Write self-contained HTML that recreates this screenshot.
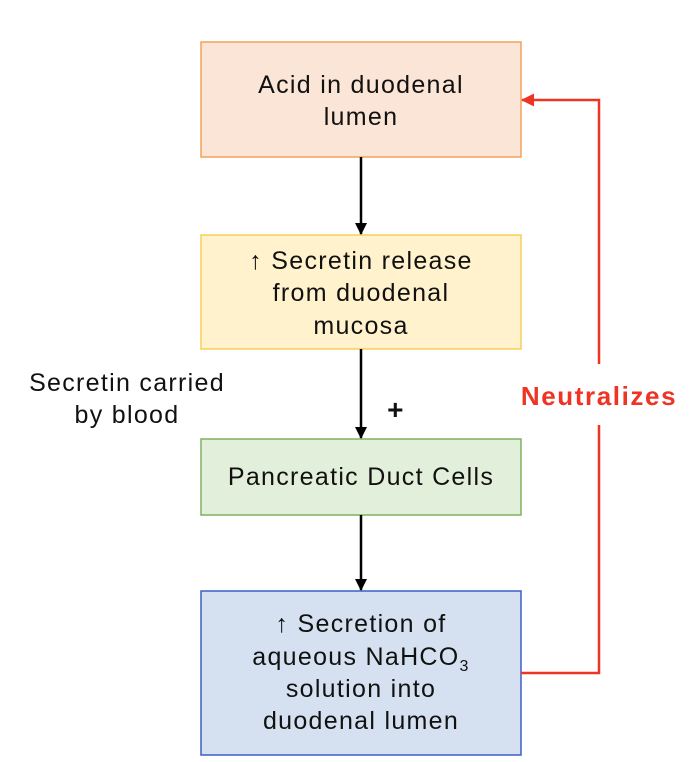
<!DOCTYPE html>
<html><head><style>body{margin:0;background:#fff}svg{display:block}</style></head><body>
<svg width="692" height="762" viewBox="0 0 692 762" xmlns="http://www.w3.org/2000/svg" font-family="Liberation Sans, sans-serif" font-size="25" letter-spacing="1.3" fill="#111">
<defs>
<marker id="ab" markerWidth="12" markerHeight="12" refX="11" refY="6" orient="auto" markerUnits="userSpaceOnUse"><path d="M0,0 L12,6 L0,12 z" fill="#000"/></marker>
<marker id="ar" markerWidth="13" markerHeight="13" refX="12" refY="6.5" orient="auto" markerUnits="userSpaceOnUse"><path d="M0,0 L13,6.5 L0,13 z" fill="#ee3424"/></marker>
</defs>
<rect x="201" y="42" width="320" height="115" fill="#fbe5d6" stroke="#f4a25a" stroke-width="1.5"/>
<rect x="201" y="235" width="320" height="114" fill="#fff2cc" stroke="#f5cf5a" stroke-width="1.5"/>
<rect x="201" y="439" width="320" height="76" fill="#e2efda" stroke="#7fb05f" stroke-width="1.5"/>
<rect x="201" y="591" width="320" height="164" fill="#d5e1f0" stroke="#3b5fc4" stroke-width="1.5"/>
<g stroke="#000" stroke-width="2.5">
<line x1="361" y1="157" x2="361" y2="234" marker-end="url(#ab)"/>
<line x1="361" y1="349" x2="361" y2="438" marker-end="url(#ab)"/>
<line x1="361" y1="515" x2="361" y2="590" marker-end="url(#ab)"/>
</g>
<g stroke="#ee3424" stroke-width="2.5" fill="none">
<polyline points="521,673 599,673 599,425"/>
<polyline points="599,364 599,100 522,100" marker-end="url(#ar)"/>
</g>
<g text-anchor="middle">
<text x="361" y="93">Acid in duodenal</text>
<text x="361" y="125">lumen</text>
<text x="361" y="269">↑ Secretin release</text>
<text x="361" y="301">from duodenal</text>
<text x="361" y="334">mucosa</text>
<text x="361" y="485">Pancreatic Duct Cells</text>
<text x="361" y="632">↑ Secretion of</text>
<text x="361" y="665">aqueous NaHCO<tspan font-size="16" dy="6">3</tspan></text>
<text x="361" y="697">solution into</text>
<text x="361" y="729">duodenal lumen</text>
<text x="127" y="391">Secretin carried</text>
<text x="127" y="423">by blood</text>
<text x="396" y="419" font-size="28" font-weight="bold">+</text>
<text x="599" y="405" font-weight="bold" font-size="26" letter-spacing="1.6" fill="#ee3424">Neutralizes</text>
</g>
</svg>
</body></html>
